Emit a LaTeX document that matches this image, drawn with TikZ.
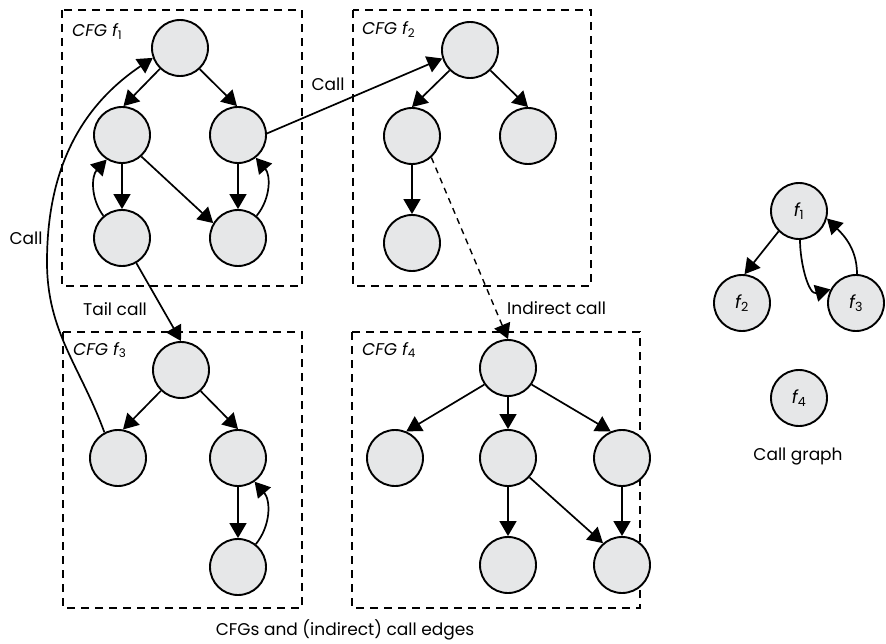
\documentclass[tikz,border=0pt]{standalone}
\usepackage{fontspec}
\setmainfont{Poppins}
\usetikzlibrary{arrows.meta}
\definecolor{nodegray}{HTML}{E6E7E8}
\begin{document}
\begin{tikzpicture}[x=1pt,y=1pt,
  blk/.style={circle,draw=black,line width=1.9pt,fill=nodegray,minimum size=56pt,inner sep=0pt,font=\fontsize{18}{20}\selectfont\itshape},
  arr/.style={line width=1.7pt,-{Triangle[length=15pt,width=17pt]}},
  frame/.style={draw,line width=1.7pt,dash pattern=on 8pt off 6pt},
  lbl/.style={font=\fontsize{17}{20}\selectfont,inner sep=0pt},
  ttl/.style={font=\fontsize{17}{20}\selectfont\itshape,inner sep=0pt,anchor=base west},
]
\useasboundingbox (0,0) rectangle (886,-644);
% frames
\draw[frame] (62,-10) rectangle (302,-286);
\draw[frame] (353,-10) rectangle (591,-286);
\draw[frame] (63,-332) rectangle (302,-608);
\draw[frame] (352,-332) rectangle (640,-608);
\node[ttl] (t1) at (72,-37) {CFG f\textsubscript{\upshape 1}};
\node[ttl] (t2) at (362,-35) {CFG f\textsubscript{\upshape 2}};
\node[ttl] (t3) at (73,-355) {CFG f\textsubscript{\upshape 3}};
\node[ttl] (t4) at (362,-355) {CFG f\textsubscript{\upshape 4}};
% f1
\node[blk] (a1) at (180,-48) {};
\node[blk] (a2) at (122,-135) {};
\node[blk] (a3) at (238,-135) {};
\node[blk] (a4) at (122,-238) {};
\node[blk] (a5) at (238,-238) {};
% f2
\node[blk] (b1) at (470,-50) {};
\node[blk] (b2) at (412,-136) {};
\node[blk] (b3) at (528,-136) {};
\node[blk] (b4) at (412,-243) {};
% f3
\node[blk] (c1) at (181,-370) {};
\node[blk] (c2) at (118,-458) {};
\node[blk] (c3) at (238,-458) {};
\node[blk] (c4) at (238,-567) {};
% f4
\node[blk] (d1) at (508,-368) {};
\node[blk] (d2) at (395,-458) {};
\node[blk] (d3) at (508,-458) {};
\node[blk] (d4) at (622,-458) {};
\node[blk] (d5) at (508,-565) {};
\node[blk] (d6) at (622,-565) {};
% call graph
\node[blk] (g1) at (799,-211) {f\textsubscript{\upshape 1}};
\node[blk] (g2) at (742,-303) {f\textsubscript{\upshape 2}};
\node[blk] (g3) at (856,-303) {f\textsubscript{\upshape 3}};
\node[blk] (g4) at (799,-398) {f\textsubscript{\upshape 4}};
% f1 edges
\draw[arr] (a1.-134) -- (a2.87);
\draw[arr] (a1.-47) -- (a3.92);
\draw[arr] (a2.south) -- (a4.north);
\draw[arr] (a3.south) -- (a5.north);
\draw[arr] (a2.-48) -- (a5.149);
\draw[arr] (a4.130) to[bend left=40] (a2.238);
\draw[arr] (a5.50) to[bend right=40] (a3.-52);
% f2 edges
\draw[arr] (b1.-135) -- (b2.north);
\draw[arr] (b1.-45) -- (b3.north);
\draw[arr] (b2.south) -- (b4.north);
% f3 edges
\draw[arr] (c1.-134) -- (c2.80);
\draw[arr] (c1.-47) -- (c3.north);
\draw[arr] (c3.south) -- (c4.north);
\draw[arr] (c4.52) to[bend right=40] (c3.-55);
% f4 edges
\draw[arr] (d1.215) -- (d2.67);
\draw[arr] (d1.south) -- (d3.north);
\draw[arr] (d1.-35) -- (d4.113);
\draw[arr] (d3.south) -- (d5.north);
\draw[arr] (d3.-42) -- (d6.131);
\draw[arr] (d4.south) -- (d6.north);
% inter-CFG calls
\draw[arr] (a3.3) -- (b1.197);
\node[lbl] (lcall1) at (328,-84) {Call};
\coordinate (callmid) at (47,-262);
\draw[arr] (c2.118) to[out=110,in=-90] (callmid) to[out=90,in=214] (a1.200);
\node[lbl] (lcall2) at (26,-238) {Call};
\draw[arr] (a4) -- (c1.north);
\node[lbl] (ltail) at (115,-309) {Tail call};
\draw[arr,line width=1.4pt,dash pattern=on 6pt off 5pt] (b2.-48) -- (d1.north);
\node[lbl,anchor=west] (lind) at (507,-308) {Indirect call};
% call graph edges
\draw[arr] (g1.225) -- (g2.85);
\draw[arr] (g1.-88) to[out=-90,in=195] (g3.152);
\draw[arr] (g3.88) to[out=90,in=-45] (g1.-15);
\node[lbl] (lcg) at (798,-457) {Call graph};
\node[lbl] (lcap) at (345,-630) {CFGs and (indirect) call edges};
\end{tikzpicture}
\end{document}
